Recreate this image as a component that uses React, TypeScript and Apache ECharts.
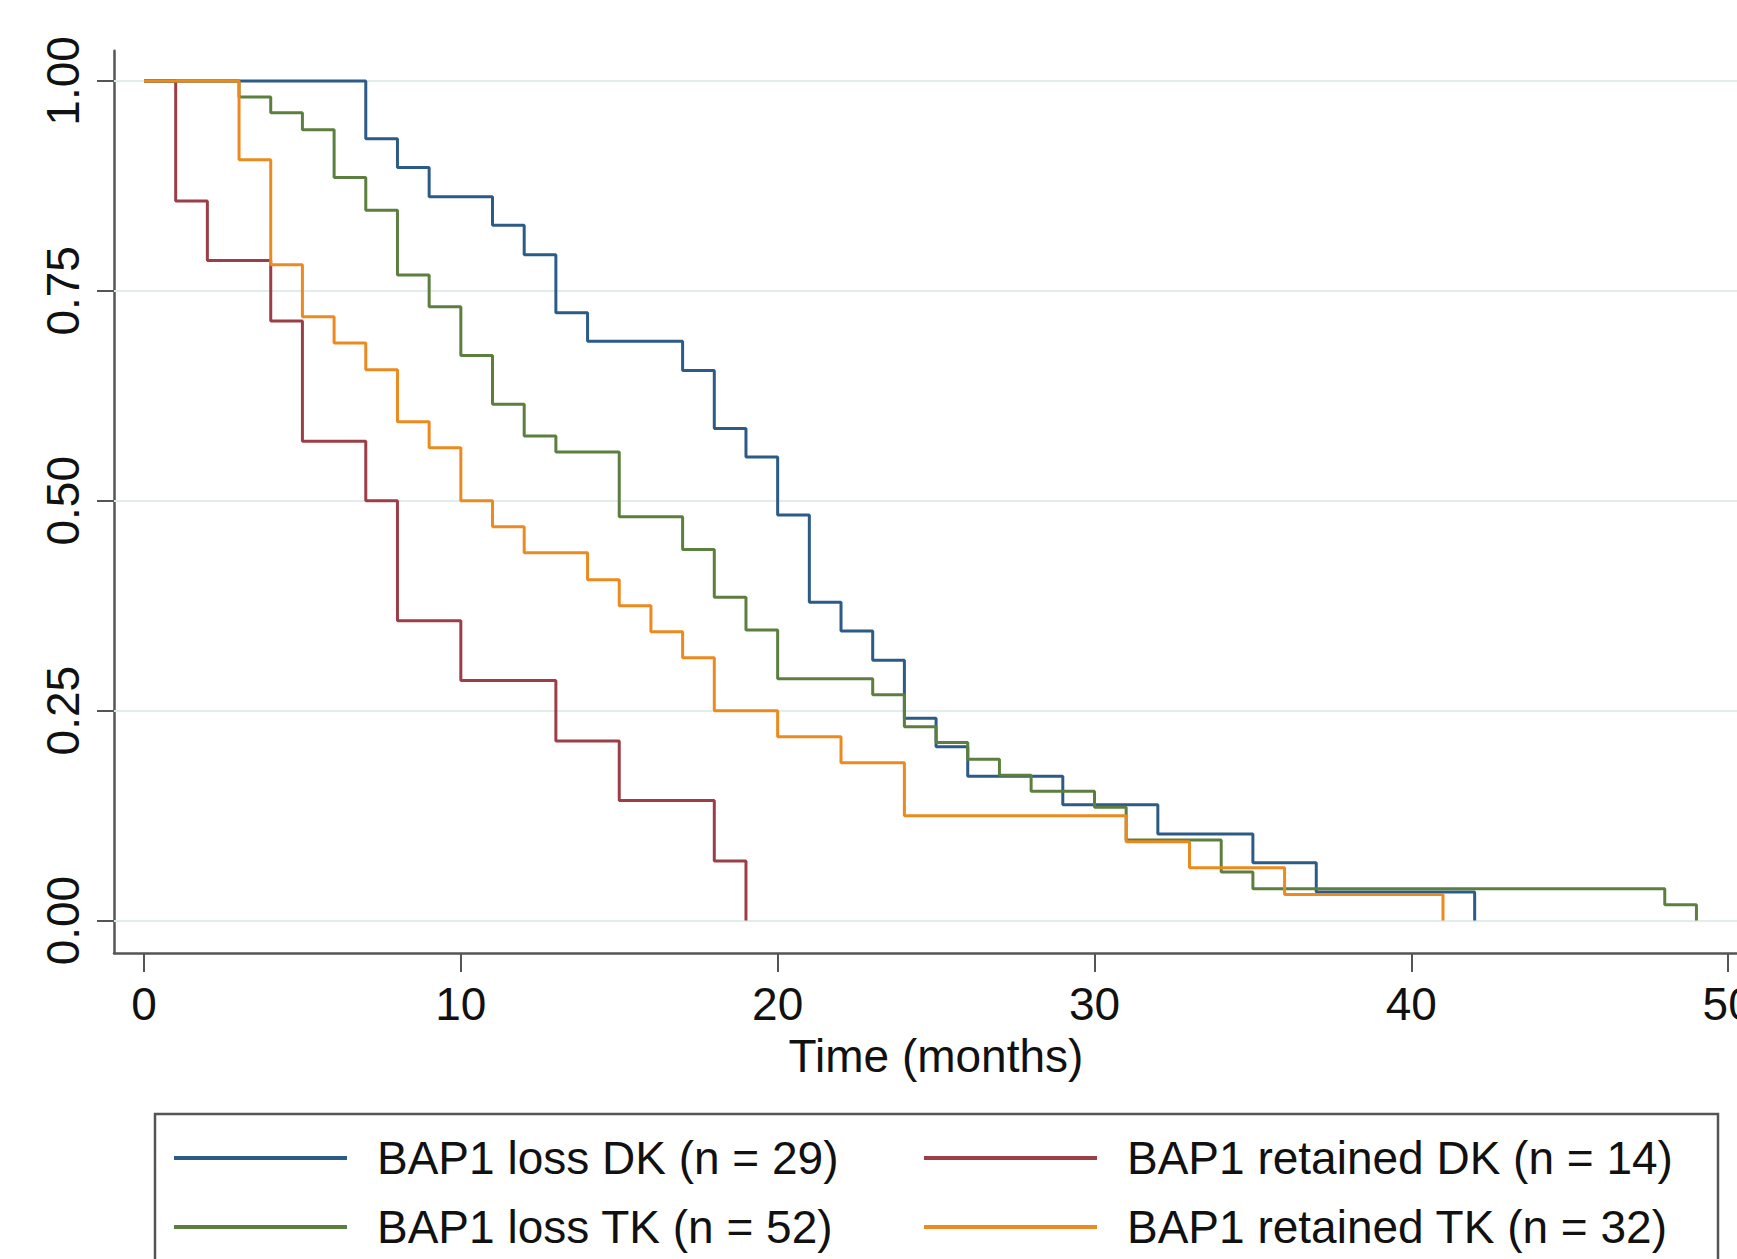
import React, { useEffect, useRef } from "react";
import * as echarts from "echarts";

const seriesNames = [
  "BAP1 loss DK (n = 29)",
  "BAP1 retained DK (n = 14)",
  "BAP1 loss TK (n = 52)",
  "BAP1 retained TK (n = 32)",
];
const seriesColors = ["#2c5b87", "#9b3e47", "#5c7f3f", "#ec8a1f"];

// Kaplan-Meier step points (time in months, survival proportion)
const lossDkTimes = [0, 7, 8, 9, 11, 12, 13, 14, 17, 18, 19, 20, 21, 22, 23, 24, 25, 26, 29, 32, 35, 37, 42];
const lossDkSurv = [1, 0.931, 0.897, 0.862, 0.828, 0.793, 0.724, 0.69, 0.655, 0.586, 0.552, 0.483, 0.379, 0.345, 0.31, 0.241, 0.207, 0.172, 0.138, 0.103, 0.069, 0.034, 0];

const retainedDkTimes = [0, 1, 2, 4, 5, 7, 8, 10, 13, 15, 18, 19];
const retainedDkSurv = [1, 0.857, 0.786, 0.714, 0.571, 0.5, 0.357, 0.286, 0.214, 0.143, 0.071, 0];

const lossTkTimes = [0, 3, 4, 5, 6, 7, 8, 9, 10, 11, 12, 13, 15, 17, 18, 19, 20, 23, 24, 25, 26, 27, 28, 30, 31, 34, 35, 48, 49];
const lossTkSurv = [1, 0.981, 0.962, 0.942, 0.885, 0.846, 0.769, 0.731, 0.673, 0.615, 0.577, 0.558, 0.481, 0.442, 0.385, 0.346, 0.288, 0.269, 0.231, 0.212, 0.192, 0.173, 0.154, 0.135, 0.096, 0.058, 0.038, 0.019, 0];

const retainedTkTimes = [0, 3, 4, 5, 6, 7, 8, 9, 10, 11, 12, 14, 15, 16, 17, 18, 20, 22, 24, 31, 33, 36, 41];
const retainedTkSurv = [1, 0.906, 0.781, 0.719, 0.688, 0.656, 0.594, 0.563, 0.5, 0.469, 0.438, 0.406, 0.375, 0.344, 0.313, 0.25, 0.219, 0.188, 0.125, 0.094, 0.063, 0.031, 0];

const xTicks = [0, 10, 20, 30, 40, 50];
const yTicks = [0, 0.25, 0.5, 0.75, 1];
const xTitle = "Time (months)";

const FONT = "'Liberation Sans', Arial, Helvetica, sans-serif";

export default function App() {
  const ref = useRef<HTMLDivElement>(null);

  useEffect(() => {
    document.body.style.margin = "0";
    if (!ref.current) return;
    const chart = echarts.init(ref.current, null, { renderer: "svg" });

    const allTimes = [lossDkTimes, retainedDkTimes, lossTkTimes, retainedTkTimes];
    const allSurv = [lossDkSurv, retainedDkSurv, lossTkSurv, retainedTkSurv];

    const curveSeries = seriesNames.map((name, i) => ({
      type: "line",
      name,
      data: allTimes[i].map((t, j) => [t, allSurv[i][j]]),
      step: "end",
      symbol: "none",
      showSymbol: false,
      lineStyle: { color: seriesColors[i], width: 3 },
      itemStyle: { color: seriesColors[i] },
      z: 3 + i,
    }));

    const gridSeries = {
      type: "line",
      name: "__grid",
      data: [],
      z: 1,
      silent: true,
      markLine: {
        silent: true,
        symbol: "none",
        z: 1,
        label: { show: false },
        lineStyle: { color: "#e2eced", width: 2, type: "solid" },
        data: yTicks.map((v) => ({ yAxis: v })),
      },
    };

    const legendLefts = [174, 924, 174, 924];
    const legendTops = [1135, 1135, 1204, 1204];

    chart.setOption({
      animation: false,
      backgroundColor: "#ffffff",
      grid: {
        left: 114,
        right: 0,
        top: 50.7,
        bottom: 306,
        containLabel: false,
        outerBoundsMode: "none",
      },
      xAxis: {
        type: "value",
        min: -0.947,
        max: 50.28,
        axisLine: { show: true, onZero: false, lineStyle: { color: "#555", width: 2.5 } },
        axisTick: {
          show: true,
          length: 19,
          lineStyle: { color: "#555", width: 2 },
          customValues: xTicks,
        },
        axisLabel: {
          customValues: xTicks,
          fontSize: 46,
          fontFamily: FONT,
          color: "#111",
          margin: 28,
        },
        splitLine: { show: false },
        name: xTitle,
        nameLocation: "middle",
        nameGap: 80,
        nameTextStyle: {
          fontSize: 46,
          fontFamily: FONT,
          color: "#111",
          padding: [0, 0, 0, 21],
        },
      },
      yAxis: {
        type: "value",
        min: -0.0386,
        max: 1.036,
        axisLine: { show: true, onZero: false, lineStyle: { color: "#555", width: 2.5 } },
        axisTick: {
          show: true,
          length: 17,
          lineStyle: { color: "#555", width: 2 },
          customValues: yTicks,
        },
        axisLabel: {
          customValues: yTicks,
          rotate: 90,
          fontSize: 46,
          fontFamily: FONT,
          color: "#111",
          margin: 28,
          formatter: (v: number) => v.toFixed(2),
        },
        splitLine: { show: false },
      },
      legend: seriesNames.map((n, i) => ({
        data: [n],
        left: legendLefts[i],
        top: legendTops[i],
        orient: "horizontal",
        icon: "rect",
        itemWidth: 173,
        itemHeight: 4,
        padding: 0,
        selectedMode: false,
        textStyle: {
          fontSize: 46,
          fontFamily: FONT,
          color: "#111",
          padding: [0, 0, 0, 25],
        },
      })),
      graphic: [
        {
          type: "rect",
          shape: { x: 155, y: 1114, width: 1563, height: 250 },
          style: { fill: "none", stroke: "#555", lineWidth: 2.5 },
          silent: true,
          z: 0,
        },
      ],
      series: [gridSeries, ...curveSeries],
    });

    return () => {
      chart.dispose();
    };
  }, []);

  return <div ref={ref} style={{ width: 1737, height: 1259 }} />;
}
